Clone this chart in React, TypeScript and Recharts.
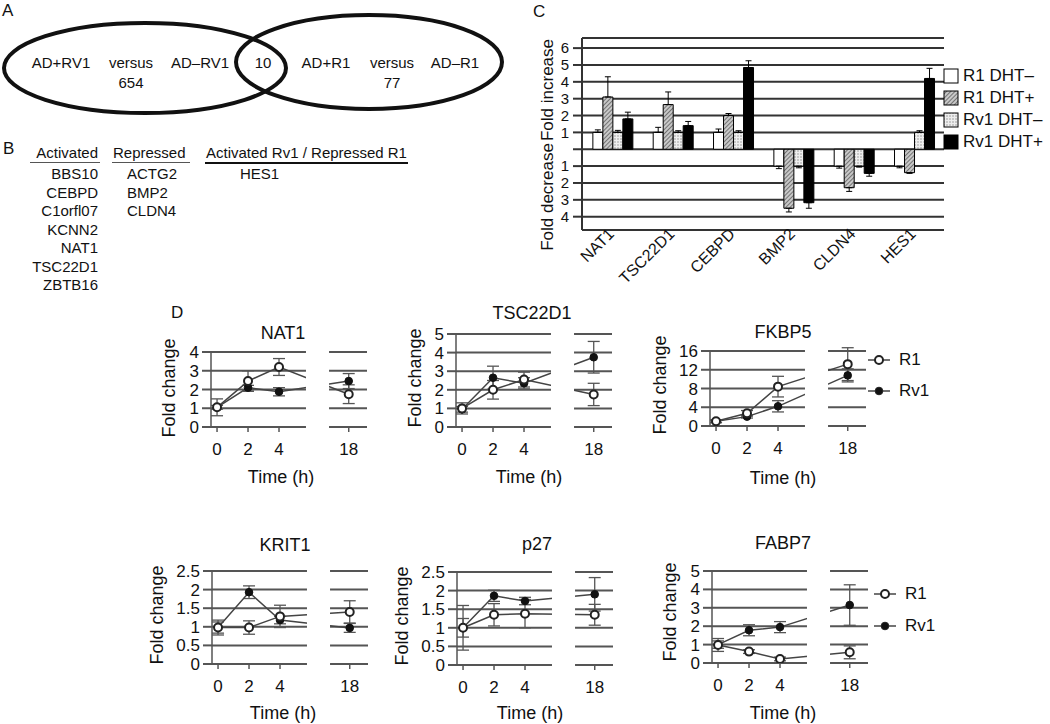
import React from 'react';
import {
  BarChart, Bar, XAxis, YAxis, CartesianGrid, ErrorBar, Legend,
  LineChart, Line, ReferenceArea,
} from 'recharts';

const FONT = '"Liberation Sans", Arial, Helvetica, sans-serif';

// ---------------- Panel A (Venn) ----------------
const vennLeftSet = ['AD+RV1', 'versus', 'AD–RV1'];
const vennRightSet = ['AD+R1', 'versus', 'AD–R1'];
const vennLeftCount = 654;
const vennOverlapCount = 10;
const vennRightCount = 77;

// ---------------- Panel B (gene lists) ----------------
const bHeaders = ['Activated', 'Repressed', 'Activated Rv1 / Repressed R1'];
const activatedGenes = ['BBS10', 'CEBPD', 'C1orfl07', 'KCNN2', 'NAT1', 'TSC22D1', 'ZBTB16'];
const repressedGenes = ['ACTG2', 'BMP2', 'CLDN4'];
const mixedGenes = ['HES1'];

// ---------------- Panel C (fold increase / decrease) ----------------
const cGenes = ['NAT1', 'TSC22D1', 'CEBPD', 'BMP2', 'CLDN4', 'HES1'];
const cSeriesNames = ['R1 DHT–', 'R1 DHT+', 'Rv1 DHT–', 'Rv1 DHT+'];
const cTicks = [-4, -3, -2, -1, 0, 1, 2, 3, 4, 5, 6];
const r1DhtMinus = [1, 1, 1, -1, -1, -1];
const r1DhtMinusErr = [0.15, 0.3, 0.2, 0.15, 0.12, 0.1];
const r1DhtPlus = [3.1, 2.65, 2.0, -3.5, -2.28, -1.39];
const r1DhtPlusErr = [1.2, 0.75, 0.12, 0.22, 0.22, 0.04];
const rv1DhtMinus = [1, 1, 1, -1, -1, 1];
const rv1DhtMinusErr = [0.12, 0.1, 0.1, 0.1, 0.06, 0.1];
const rv1DhtPlus = [1.8, 1.4, 4.85, -3.17, -1.43, 4.2];
const rv1DhtPlusErr = [0.4, 0.25, 0.4, 0.33, 0.17, 0.6];

// ---------------- Panel D (time courses) ----------------
const dTimes = [0, 2, 4, 18];
const dTimeLabels = ['0', '2', '4', '18'];

const nat1R1 = [1.05, 2.45, 3.2, 1.75];
const nat1R1Err = [0.45, 0.55, 0.45, 0.5];
const nat1Rv1 = [1.05, 2.1, 1.88, 2.45];
const nat1Rv1Err = [0.1, 0.12, 0.22, 0.4];

const tscR1 = [1.0, 2.0, 2.55, 1.75];
const tscR1Err = [0.3, 0.5, 0.4, 0.6];
const tscRv1 = [0.95, 2.65, 2.35, 3.75];
const tscRv1Err = [0.15, 0.62, 0.3, 0.85];

const fkbpR1 = [1.0, 2.7, 8.4, 13.2];
const fkbpR1Err = [0.3, 0.6, 2.2, 3.5];
const fkbpRv1 = [1.0, 2.0, 4.2, 10.8];
const fkbpRv1Err = [0.2, 0.3, 1.2, 1.4];

const kritR1 = [0.98, 0.98, 1.28, 1.4];
const kritR1Err = [0.2, 0.18, 0.3, 0.3];
const kritRv1 = [0.98, 1.93, 1.18, 0.97];
const kritRv1Err = [0.15, 0.17, 0.1, 0.12];

const p27R1 = [1.0, 1.35, 1.38, 1.35];
const p27R1Err = [0.6, 0.3, 0.38, 0.28];
const p27Rv1 = [1.0, 1.86, 1.72, 1.9];
const p27Rv1Err = [0.25, 0.15, 0.1, 0.45];

const fabpR1 = [0.98, 0.62, 0.22, 0.58];
const fabpR1Err = [0.35, 0.1, 0.1, 0.35];
const fabpRv1 = [1.0, 1.78, 1.95, 3.15];
const fabpRv1Err = [0.2, 0.3, 0.3, 1.1];

// broken time axis: 0-4 h linear, the span 4-18 h compressed
const BREAK_COMPRESS = 4.5 / 14;
const axisPos = (t: number) => (t <= 4 ? t : 4 + (t - 4) * BREAK_COMPRESS);
const dTickPos = dTimes.map(axisPos);
const posLabel = (v: number) => {
  const i = dTickPos.findIndex((p) => Math.abs(p - v) < 1e-6);
  return i >= 0 ? dTimeLabels[i] : '';
};
const D_DOMAIN: [number, number] = [-0.39, 9.68];
const D_GAP: [number, number] = [5.87, 7.1];

const D_YAXIS_W = 45;
const D_PLOT_W = 156;
const D_MT = 14;
const D_XAXIS_H = 30;
const D_MB = 10;

type Pt = [number, number];
type DPanel = {
  title: string;
  r1: number[]; r1Err: number[]; rv1: number[]; rv1Err: number[];
  yTicks: number[];
  axisX: number; plotTop: number; plotBottom: number;
  titlePos: Pt; yLabelPos: Pt; timePos: Pt; legendPos?: Pt; legendRow?: number;
};

const dPanels: DPanel[] = [
  { title: 'NAT1', r1: nat1R1, r1Err: nat1R1Err, rv1: nat1Rv1, rv1Err: nat1Rv1Err, yTicks: [0, 1, 2, 3, 4],
    axisX: 211, plotTop: 352, plotBottom: 427, titlePos: [283, 333], yLabelPos: [169, 388], timePos: [281, 477] },
  { title: 'TSC22D1', r1: tscR1, r1Err: tscR1Err, rv1: tscRv1, rv1Err: tscRv1Err, yTicks: [0, 1, 2, 3, 4, 5],
    axisX: 456, plotTop: 334, plotBottom: 427, titlePos: [532, 313], yLabelPos: [415, 378], timePos: [529, 477] },
  { title: 'FKBP5', r1: fkbpR1, r1Err: fkbpR1Err, rv1: fkbpRv1, rv1Err: fkbpRv1Err, yTicks: [0, 4, 8, 12, 16],
    axisX: 710, plotTop: 351, plotBottom: 426, titlePos: [783, 332], yLabelPos: [660, 385], timePos: [783, 478],
    legendPos: [868, 344], legendRow: 31 },
  { title: 'KRIT1', r1: kritR1, r1Err: kritR1Err, rv1: kritRv1, rv1Err: kritRv1Err, yTicks: [0, 0.5, 1, 1.5, 2, 2.5],
    axisX: 212, plotTop: 571, plotBottom: 664, titlePos: [285, 545], yLabelPos: [157, 615], timePos: [283, 713] },
  { title: 'p27', r1: p27R1, r1Err: p27R1Err, rv1: p27Rv1, rv1Err: p27Rv1Err, yTicks: [0, 0.5, 1, 1.5, 2, 2.5],
    axisX: 457, plotTop: 572, plotBottom: 665, titlePos: [537, 544], yLabelPos: [402, 616], timePos: [530, 713] },
  { title: 'FABP7', r1: fabpR1, r1Err: fabpR1Err, rv1: fabpRv1, rv1Err: fabpRv1Err, yTicks: [0, 1, 2, 3, 4, 5],
    axisX: 712, plotTop: 571, plotBottom: 663, titlePos: [783, 543], yLabelPos: [670, 612], timePos: [783, 713],
    legendPos: [874, 578], legendRow: 32 },
];

const abs = (x: number, y: number, extra: React.CSSProperties = {}): React.CSSProperties => ({
  position: 'absolute', left: x, top: y, whiteSpace: 'nowrap', fontFamily: FONT, color: '#111', ...extra,
});
const centered = (x: number, y: number, size: number, rotate = false): React.CSSProperties =>
  abs(x, y, { fontSize: size, lineHeight: 1, transform: `translate(-50%, -50%)${rotate ? ' rotate(-90deg)' : ''}` });

// ---------------- Panel C ----------------
const cData = cGenes.map((g, i) => ({
  gene: g,
  r1m: r1DhtMinus[i], r1mErr: r1DhtMinusErr[i],
  r1p: r1DhtPlus[i], r1pErr: r1DhtPlusErr[i],
  rv1m: rv1DhtMinus[i], rv1mErr: rv1DhtMinusErr[i],
  rv1p: rv1DhtPlus[i], rv1pErr: rv1DhtPlusErr[i],
}));
const signedErr = (v: string, e: string) => (d: any) => (d[v] >= 0 ? [0, d[e]] : [d[e], 0]);

const RotTick = (props: any) => {
  const { x, y, payload } = props;
  const ax = x + 3;
  const ay = y - 3;
  return (
    <text x={ax} y={ay} transform={`rotate(-45 ${ax} ${ay})`} textAnchor="end"
      fontSize={16} fontFamily={FONT} fill="#111">{payload.value}</text>
  );
};

const CLegend = (props: any) => {
  const items = [...(props.payload || [])].sort(
    (a: any, b: any) => cSeriesNames.indexOf(a.value) - cSeriesNames.indexOf(b.value));
  return (
    <div style={{ fontFamily: FONT }}>
      {items.map((e: any) => (
        <div key={e.value} style={{ display: 'flex', alignItems: 'center', height: 22 }}>
          <svg width={16} height={16} style={{ display: 'block' }}>
            <rect x={1} y={1} width={14} height={14} fill={e.color} stroke="#000" strokeWidth={1} />
          </svg>
          <span style={{ marginLeft: 4, fontSize: 17, color: '#111' }}>{e.value}</span>
        </div>
      ))}
    </div>
  );
};

function PanelC() {
  return (
    <div style={{ position: 'absolute', left: 530, top: 0 }}>
      <BarChart width={520} height={300} data={cData} margin={{ top: 38, right: 106, bottom: 10, left: 0 }}
        barCategoryGap="18%" barGap={0}>
        <defs>
          <pattern id="hatch" width="3" height="3" patternUnits="userSpaceOnUse" patternTransform="rotate(45)">
            <rect width="3" height="3" fill="#c8c8c8" />
            <line x1="0" y1="0" x2="0" y2="3" stroke="#444" strokeWidth="1.3" />
          </pattern>
          <pattern id="dots" width="3" height="3" patternUnits="userSpaceOnUse">
            <rect width="3" height="3" fill="#eeeeee" />
            <circle cx="1" cy="1" r="0.8" fill="#999" />
          </pattern>
        </defs>
        <CartesianGrid vertical={false} stroke="#333" strokeWidth={2} />
        <XAxis dataKey="gene" axisLine={false} tickLine={false} interval={0} height={60} tick={<RotTick />} />
        <YAxis domain={[-4.79, 6.6]} allowDataOverflow ticks={cTicks} interval={0} width={52}
          tickFormatter={(v: number) => (v === 0 ? '' : String(Math.abs(v)))}
          tickSize={9} tickMargin={4}
          axisLine={{ stroke: '#333', strokeWidth: 2 }} tickLine={{ stroke: '#333', strokeWidth: 2 }}
          tick={{ fontSize: 15, fill: '#111', fontFamily: FONT }} />
        <Bar dataKey="r1m" name="R1 DHT–" fill="#ffffff" stroke="#000" strokeWidth={1} isAnimationActive={false}>
          <ErrorBar dataKey={signedErr('r1m', 'r1mErr')} width={3} stroke="#000" strokeWidth={1} direction="y" />
        </Bar>
        <Bar dataKey="r1p" name="R1 DHT+" fill="url(#hatch)" stroke="#000" strokeWidth={1} isAnimationActive={false}>
          <ErrorBar dataKey={signedErr('r1p', 'r1pErr')} width={3} stroke="#000" strokeWidth={1} direction="y" />
        </Bar>
        <Bar dataKey="rv1m" name="Rv1 DHT–" fill="url(#dots)" stroke="#000" strokeWidth={1} isAnimationActive={false}>
          <ErrorBar dataKey={signedErr('rv1m', 'rv1mErr')} width={3} stroke="#000" strokeWidth={1} direction="y" />
        </Bar>
        <Bar dataKey="rv1p" name="Rv1 DHT+" fill="#000000" stroke="#000" strokeWidth={1} isAnimationActive={false}>
          <ErrorBar dataKey={signedErr('rv1p', 'rv1pErr')} width={3} stroke="#000" strokeWidth={1} direction="y" />
        </Bar>
        <Legend layout="vertical" align="center" verticalAlign="middle" content={<CLegend />}
          wrapperStyle={{ left: 413, top: 65, width: 110 }} />
      </BarChart>
      <div style={centered(17, 90, 17, true)}>Fold increase</div>
      <div style={centered(17, 197, 17, true)}>Fold decrease</div>
    </div>
  );
}

// ---------------- Panel D ----------------
const makeDLegend = (rowH: number) => (props: any) => {
  const order = ['R1', 'Rv1'];
  const items = [...(props.payload || [])].sort((a: any, b: any) => order.indexOf(a.value) - order.indexOf(b.value));
  return (
    <div style={{ fontFamily: FONT }}>
      {items.map((e: any) => (
        <div key={e.value} style={{ display: 'flex', alignItems: 'center', height: rowH }}>
          <svg width={22} height={12} style={{ display: 'block' }}>
            <line x1={0} y1={6} x2={22} y2={6} stroke="#444" strokeWidth={1.5} />
            <circle cx={11} cy={6} r={e.value === 'R1' ? 4 : 3.8}
              fill={e.value === 'R1' ? '#fff' : '#111'} stroke="#222" strokeWidth={e.value === 'R1' ? 2 : 1} />
          </svg>
          <span style={{ marginLeft: 9, fontSize: 17, color: '#111' }}>{e.value}</span>
        </div>
      ))}
    </div>
  );
};

function TimeCourse({ cfg }: { cfg: DPanel }) {
  const data = dTimes.map((t, i) => ({
    pos: axisPos(t), r1: cfg.r1[i], r1Err: cfg.r1Err[i], rv1: cfg.rv1[i], rv1Err: cfg.rv1Err[i],
  }));
  const left = cfg.axisX - D_YAXIS_W;
  const top = cfg.plotTop - D_MT;
  const extra = cfg.legendPos ? 80 : 8;
  const width = D_YAXIS_W + D_PLOT_W + extra;
  const height = D_MT + (cfg.plotBottom - cfg.plotTop) + D_XAXIS_H + D_MB;
  const yMax = cfg.yTicks[cfg.yTicks.length - 1];
  return (
    <>
      <div style={{ position: 'absolute', left, top }}>
        <LineChart width={width} height={height} data={data}
          margin={{ top: D_MT, right: extra, bottom: D_MB, left: 0 }}>
          <CartesianGrid vertical={false} stroke="#555" strokeWidth={2} />
          <XAxis type="number" dataKey="pos" domain={D_DOMAIN} allowDataOverflow ticks={dTickPos} interval={0}
            tickFormatter={posLabel} axisLine={false} tickSize={5} tickMargin={11} height={D_XAXIS_H}
            tickLine={{ stroke: '#555', strokeWidth: 1.5 }}
            tick={{ fontSize: 17, fill: '#111', fontFamily: FONT }} />
          <YAxis domain={[0, yMax]} allowDataOverflow ticks={cfg.yTicks} interval={0} width={D_YAXIS_W}
            tickSize={9} tickMargin={3}
            axisLine={{ stroke: '#555', strokeWidth: 1.5 }} tickLine={{ stroke: '#555', strokeWidth: 2 }}
            tick={{ fontSize: 17, fill: '#111', fontFamily: FONT }} />
          <Line dataKey="rv1" name="Rv1" stroke="#444" strokeWidth={1.5} isAnimationActive={false}
            dot={{ r: 3.8, fill: '#111', stroke: '#111', strokeWidth: 1 }} activeDot={false}>
            <ErrorBar dataKey="rv1Err" width={6} stroke="#555" strokeWidth={1.3} direction="y" />
          </Line>
          <Line dataKey="r1" name="R1" stroke="#444" strokeWidth={1.5} isAnimationActive={false}
            dot={{ r: 4, fill: '#fff', stroke: '#222', strokeWidth: 2 }} activeDot={false}>
            <ErrorBar dataKey="r1Err" width={6} stroke="#555" strokeWidth={1.3} direction="y" />
          </Line>
          <ReferenceArea x1={D_GAP[0]} x2={D_GAP[1]} fill="#ffffff" fillOpacity={1}
            stroke="#ffffff" strokeWidth={4} zIndex={450} />
          {cfg.legendPos && (
            <Legend layout="vertical" align="center" verticalAlign="middle"
              content={makeDLegend(cfg.legendRow || 31)}
              wrapperStyle={{ left: cfg.legendPos[0] - left, top: cfg.legendPos[1] - top, width: 75 }} />
          )}
        </LineChart>
      </div>
      <div style={centered(cfg.titlePos[0], cfg.titlePos[1], 18)}>{cfg.title}</div>
      <div style={centered(cfg.yLabelPos[0], cfg.yLabelPos[1], 18, true)}>Fold change</div>
      <div style={centered(cfg.timePos[0], cfg.timePos[1], 18)}>Time (h)</div>
    </>
  );
}

// ---------------- Panels A & B ----------------
function PanelA() {
  return (
    <>
      <svg width={530} height={125} style={{ position: 'absolute', left: 0, top: 0 }}>
        <ellipse cx={145} cy={68} rx={141} ry={45} fill="none" stroke="#111" strokeWidth={4} />
        <ellipse cx={369} cy={62} rx={133} ry={47} fill="none" stroke="#111" strokeWidth={4} />
      </svg>
      <div style={centered(61, 62, 15)}>{vennLeftSet[0]}</div>
      <div style={centered(131, 62, 15)}>{vennLeftSet[1]}</div>
      <div style={centered(200, 62, 15)}>{vennLeftSet[2]}</div>
      <div style={centered(131, 82, 15)}>{vennLeftCount}</div>
      <div style={centered(263, 62, 15)}>{vennOverlapCount}</div>
      <div style={centered(326, 62, 15)}>{vennRightSet[0]}</div>
      <div style={centered(392, 62, 15)}>{vennRightSet[1]}</div>
      <div style={centered(455, 62, 15)}>{vennRightSet[2]}</div>
      <div style={centered(392, 82, 15)}>{vennRightCount}</div>
    </>
  );
}

function PanelB() {
  const rowY = (i: number) => 173 + i * 18.5;
  return (
    <>
      <div style={abs(0, 152, { fontSize: 15, lineHeight: 1, right: 1050 - 98, left: undefined, textAlign: 'right', transform: 'translateY(-50%)' })}>{bHeaders[0]}</div>
      <div style={abs(113, 152, { fontSize: 15, lineHeight: 1, transform: 'translateY(-50%)' })}>{bHeaders[1]}</div>
      <div style={abs(206, 152, { fontSize: 15, lineHeight: 1, transform: 'translateY(-50%)' })}>{bHeaders[2]}</div>
      <div style={{ position: 'absolute', left: 30, top: 162, width: 70, height: 0, borderTop: '1.5px solid #555' }} />
      <div style={{ position: 'absolute', left: 112, top: 162, width: 78, height: 0, borderTop: '1.5px solid #555' }} />
      <div style={{ position: 'absolute', left: 205, top: 162, width: 203, height: 0, borderTop: '2px solid #111' }} />
      {activatedGenes.map((g, i) => (
        <div key={g} style={abs(0, rowY(i), { fontSize: 15, lineHeight: 1, right: 1050 - 98, left: undefined, textAlign: 'right', transform: 'translateY(-50%)' })}>{g}</div>
      ))}
      {repressedGenes.map((g, i) => (
        <div key={g} style={abs(127, rowY(i), { fontSize: 15, lineHeight: 1, transform: 'translateY(-50%)' })}>{g}</div>
      ))}
      {mixedGenes.map((g, i) => (
        <div key={g} style={abs(240, rowY(i), { fontSize: 15, lineHeight: 1, transform: 'translateY(-50%)' })}>{g}</div>
      ))}
    </>
  );
}

export default function App() {
  return (
    <div style={{ position: 'absolute', left: 0, top: 0, width: 1050, height: 724, background: '#fff', overflow: 'hidden', fontFamily: FONT }}>
      <div style={abs(2, 2, { fontSize: 17, lineHeight: 1 })}>A</div>
      <div style={abs(3, 140, { fontSize: 17, lineHeight: 1 })}>B</div>
      <div style={abs(533, 3, { fontSize: 17, lineHeight: 1 })}>C</div>
      <div style={abs(171, 304, { fontSize: 17, lineHeight: 1 })}>D</div>
      <PanelA />
      <PanelB />
      <PanelC />
      {dPanels.map((p) => <TimeCourse key={p.title} cfg={p} />)}
    </div>
  );
}
